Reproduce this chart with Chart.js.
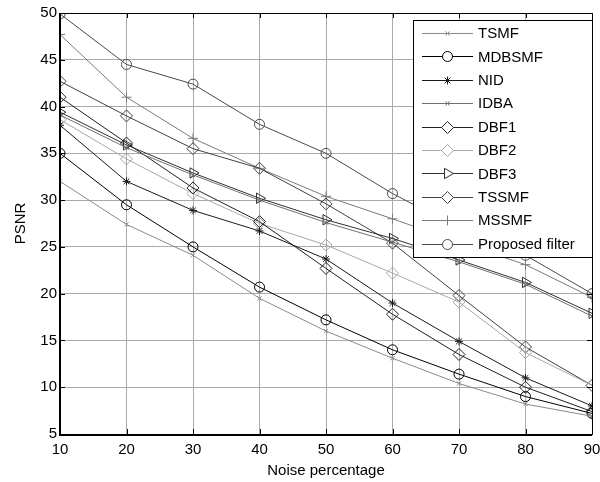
<!DOCTYPE html>
<html>
<head>
<meta charset="utf-8">
<script src="https://cdn.jsdelivr.net/npm/chart.js@4/dist/chart.umd.min.js"></script>
<style>
html,body{margin:0;padding:0;background:#fff;}
#wrap{width:600px;height:482px;position:relative;}
</style>
</head>
<body>
<div id="wrap"><canvas id="c" width="600" height="482"></canvas></div>
<script>
const noisePercent = [10, 20, 30, 40, 50, 60, 70, 80, 90];
const yTicks = [5, 10, 15, 20, 25, 30, 35, 40, 45, 50];

const tsmf     = [32.0, 27.4, 24.1, 19.5, 16.0, 13.1, 10.4, 8.2, 6.9];
const mdbsmf   = [35.0, 29.5, 25.0, 20.7, 17.2, 14.0, 11.4, 9.0, 7.2];
const nid      = [38.0, 32.0, 28.9, 26.7, 23.7, 19.0, 14.9, 11.0, 8.0];
const idba     = [39.1, 35.6, 32.7, 30.0, 27.6, 25.5, 23.4, 21.0, 17.6];
const dbf1     = [41.0, 36.1, 31.3, 27.7, 22.7, 17.8, 13.5, 10.0, 7.4];
const dbf2     = [38.6, 34.4, 30.7, 27.5, 25.2, 22.2, 19.1, 13.7, 10.2];
const dbf3     = [39.4, 35.9, 32.9, 30.2, 27.9, 25.9, 23.6, 21.2, 17.9];
const tssmf    = [42.7, 39.0, 35.5, 33.4, 29.6, 25.4, 19.8, 14.3, 10.2];
const mssmf    = [47.7, 41.0, 36.6, 33.4, 30.4, 28.0, 25.5, 23.1, 19.6];
const proposed = [49.9, 44.5, 42.4, 38.1, 35.0, 30.7, 27.0, 24.1, 20.0];

const seriesNames = ['TSMF','MDBSMF','NID','IDBA','DBF1','DBF2','DBF3','TSSMF','MSSMF','Proposed filter'];
const seriesData = [tsmf, mdbsmf, nid, idba, dbf1, dbf2, dbf3, tssmf, mssmf, proposed];
const seriesColor = ['#8a8a8a','#000000','#1a1a1a','#707070','#202020','#a8a8a8','#303030','#404040','#7a7a7a','#4a4a4a'];
const seriesMarker = ['crossRot','circle','star','crossRot','rectRot','rectRot','triangle','rectRot','cross','circle'];
const seriesRadius = [3, 5, 4, 3, 6, 6, 6, 6, 5, 5];
const seriesRotation = [0,0,0,0,0,0,90,0,0,0];

const datasets = seriesNames.map((n,i)=>({
  label: n,
  data: seriesData[i],
  borderColor: seriesColor[i],
  backgroundColor: 'rgba(0,0,0,0)',
  pointBorderColor: seriesColor[i],
  pointBackgroundColor: 'rgba(0,0,0,0)',
  borderWidth: 1,
  pointBorderWidth: 1,
  pointStyle: seriesMarker[i],
  pointRadius: seriesRadius[i],
  pointRotation: seriesRotation[i],
  tension: 0,
  fill: false
}));

const FONT = '"Liberation Sans", Arial, sans-serif';

const framePlugin = {
  id: 'frame',
  afterDatasetsDraw(chart) {
    const {ctx, chartArea: a, scales} = chart;
    ctx.save();
    ctx.strokeStyle = '#000';
    ctx.lineWidth = 1;
    const tl = 5;
    scales.x.ticks.forEach(t => {
      const px = Math.round(scales.x.getPixelForValue(t.value)) + 0.5;
      ctx.beginPath();
      ctx.moveTo(px, a.bottom); ctx.lineTo(px, a.bottom - tl);
      ctx.moveTo(px, a.top); ctx.lineTo(px, a.top + tl);
      ctx.stroke();
    });
    scales.y.ticks.forEach(t => {
      const py = Math.round(scales.y.getPixelForValue(t.value)) + 0.5;
      ctx.beginPath();
      ctx.moveTo(a.left, py); ctx.lineTo(a.left + tl, py);
      ctx.moveTo(a.right, py); ctx.lineTo(a.right - tl, py);
      ctx.stroke();
    });
    ctx.lineWidth = 1;
    ctx.strokeRect(Math.round(a.left)+0.5, Math.round(a.top)+0.5, Math.round(a.right-a.left), Math.round(a.bottom-a.top));
    ctx.lineWidth = 2;
    ctx.beginPath();
    ctx.moveTo(a.left, a.top); ctx.lineTo(a.left, a.bottom + 1); ctx.lineTo(a.right, a.bottom + 1);
    ctx.stroke();

    // legend box
    const lx = 413, ly = 20, lw = Math.round(a.right) - 413, lh = 237;
    ctx.fillStyle = '#fff';
    ctx.fillRect(lx, ly, lw, lh);
    ctx.strokeStyle = '#000';
    ctx.lineWidth = 1;
    ctx.strokeRect(lx + 0.5, ly + 0.5, lw, lh);
    ctx.font = '15px ' + FONT;
    ctx.textBaseline = 'middle';
    ctx.textAlign = 'left';
    seriesNames.forEach((n, i) => {
      const y = 33 + i * 23.4;
      ctx.strokeStyle = seriesColor[i];
      ctx.lineWidth = 1;
      ctx.beginPath();
      ctx.moveTo(422, Math.round(y) + 0.5); ctx.lineTo(473, Math.round(y) + 0.5);
      ctx.stroke();
      ctx.fillStyle = '#fff';
      ctx.strokeStyle = seriesColor[i];
      Chart.helpers.drawPoint(ctx, {
        pointStyle: seriesMarker[i],
        radius: seriesRadius[i],
        rotation: seriesRotation[i],
        borderWidth: 1
      }, 447.5, Math.round(y) + 0.5);
      ctx.fillStyle = '#000';
      ctx.fillText(n, 478, y + 1);
    });
    ctx.restore();
  }
};

new Chart(document.getElementById('c'), {
  type: 'line',
  data: { labels: noisePercent, datasets },
  options: {
    responsive: false,
    animation: false,
    devicePixelRatio: 1,
    layout: { padding: { left: 0, top: 13, right: 8, bottom: 0 } },
    plugins: { legend: { display: false }, tooltip: { enabled: false } },
    scales: {
      x: {
        type: 'linear',
        min: 10, max: 90,
        afterBuildTicks(s){ s.ticks = noisePercent.map(v=>({value:v})); },
        afterFit(s){ s.height = 48; s.paddingLeft = 0; s.paddingRight = 0; },
        grid: { color: '#aaaaaa', lineWidth: 1, drawTicks: false },
        border: { display: false },
        ticks: { color: '#000', font: { family: FONT, size: 15 }, padding: 7, maxRotation: 0 },
        title: { display: true, text: 'Noise percentage', color: '#000', font: { family: FONT, size: 15 }, padding: { top: 2, bottom: 2 } }
      },
      y: {
        min: 5, max: 50,
        afterBuildTicks(s){ s.ticks = yTicks.map(v=>({value:v})); },
        afterFit(s){ s.width = 60; s.paddingTop = 0; s.paddingBottom = 0; },
        grid: { color: '#aaaaaa', lineWidth: 1, drawTicks: false },
        border: { display: false },
        ticks: { color: '#000', font: { family: FONT, size: 15 }, padding: 3 },
        title: { display: true, text: 'PSNR', color: '#000', font: { family: FONT, size: 15 }, padding: { top: 12, bottom: 4 } }
      }
    }
  },
  plugins: [framePlugin]
});
</script>
</body>
</html>
